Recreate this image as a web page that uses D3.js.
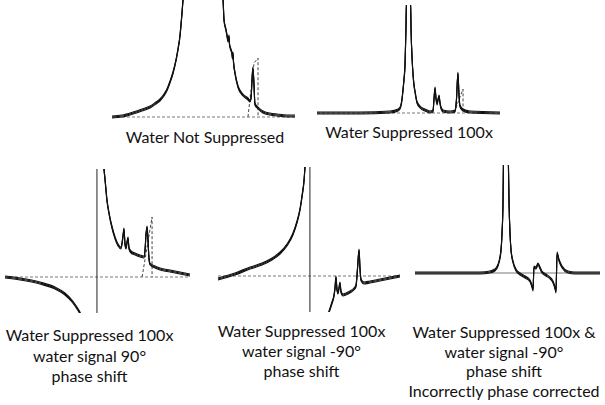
<!DOCTYPE html>
<html>
<head>
<meta charset="utf-8">
<script src="https://cdn.jsdelivr.net/npm/d3@7"></script>
<style>
  body { margin: 0; background: #fff; }
  svg { display: block; }
  .label { font-family: Lato, "Open Sans", sans-serif; font-size: 16px; fill: #111; text-anchor: middle; }
</style>
</head>
<body>
<div id="chart"></div>
<script>
// spectra: x = position across the panel (0-100), y = intensity above baseline
var waterNotSuppressed = [
  [0,0],[5.5,1],[11.5,4],[16.4,7],[20.8,10],[24,14],[26.2,17],[28.4,22],[30,27],[31.7,35],
  [33.3,44],[35,57],[36,67],[37.2,82],[37.7,92],[38.3,105],[38.8,117],[39.3,127],
  [60.1,127],[60.7,117],[61.2,97],[62.3,87],[62.8,82],[63.4,76],[63.9,81],[64.2,73],[64.5,70],
  [65.6,63],[65.8,59],[66.1,64],[66.4,55],[67.2,44],[68.9,30],[71.6,22],[74.3,18],[75.4,16],
  [76,19],[76.5,37],[77,49],[77.6,32],[78.1,13],[79.8,9],[82.5,5],[86.3,3],[90.2,2],[95.6,1],[100,1]
];
var waterNotSuppressedFit = [[74.3,0],[77.6,54],[79.8,59],[79.8,0]];

var waterSuppressed = [
  [0,0],[23.5,0],[39.9,1],[44.3,3],[45.4,5],[46.4,13],[47,23],[47.5,33],[48.1,48],[48.6,83],[48.9,113],
  [51.1,113],[51.4,83],[52,53],[52.5,38],[53,28],[53.6,21],[54.6,11],[56.3,6],[59,3],[61.7,1],
  [63.4,2],[63.9,13],[64.5,25],[65,15],[65.6,9],[66.1,13],[66.7,17],[67.2,10],[67.8,5],[68.9,2],
  [72.7,1],[75.4,2],[76.2,13],[77,40],[77.6,18],[78.1,7],[79.8,3],[83.6,1],[100,0]
];
var waterSuppressedFit = [[74.9,0],[79.8,24],[79.8,0]];

var shift90Left = [
  [0,0],[8.1,-2],[18.9,-6],[27,-11],[32.4,-17],[36.2,-24],[38.9,-31],[40.5,-36],[41.6,-41]
];
var shift90Right = [
  [53,117],[53.5,108],[54.1,97],[55.1,77],[56.2,64],[57.8,50],[59.5,39],[61.1,32],[62.7,29],
  [63.8,41],[64.3,48],[64.9,32],[65.4,29],[66,35],[66.5,39],[67,29],[68.1,25],[70.3,23],[73,21],
  [75.1,20],[75.7,27],[76.2,42],[76.8,50],[77.3,37],[77.8,19],[78.4,13],[81.1,10],[83.8,8],
  [89.2,6],[94.6,4],[100,2]
];
var shift90Fit = [[74.1,0],[79.5,60],[79.5,0]];

var shiftMinus90Left = [
  [0,-3],[9.3,2],[17.6,8],[24.2,12],[29.7,17],[34.1,23],[37.9,31],[41.2,42],[43.4,54],[45,66],
  [46.2,80],[47.3,96],[47.8,109],[48.4,121]
];
var shiftMinus90Right = [
  [60.4,-40],[61,-36],[62.6,-27],[63.7,-20],[64.3,-12],[64.8,-1],[65.4,-14],[65.9,-17],[66.5,-12],
  [67,-7],[67.6,-16],[68.7,-19],[70.3,-18],[72.5,-16],[74.7,-13],[75.8,-10],[76.4,1],[76.9,14],
  [77.5,26],[78,8],[78.6,-4],[80.2,-7],[83.5,-6],[89,-4],[94.5,-2],[100,0]
];

var incorrectPhase = [
  [0,0],[18.9,0],[35.1,0],[40.5,1],[43.2,3],[44.9,8],[45.9,15],[46.5,23],[47,38],[47.6,73],[47.8,108],[48.1,123],
  [50.3,123],[50.5,108],[50.8,73],[51.4,38],[51.9,23],[53,11],[54.6,3],[56.8,-1],[59.5,-4],[62.2,-8],
  [63.2,-13],[63.8,-17],[64.3,6],[65.4,5],[66.5,9],[67.6,5],[68.6,1],[70.8,-2],[73,-5],[74.6,-9],
  [75.7,-15],[76.2,-19],[76.8,20],[77.8,13],[79.5,6],[82.7,1],[86.5,0],[100,0]
];

var labels1 = ["Water Not Suppressed"];
var labels2 = ["Water Suppressed 100x"];
var labels3 = ["Water Suppressed 100x", "water signal 90\u00b0", "phase shift"];
var labels4 = ["Water Suppressed 100x", "water signal -90\u00b0", "phase shift"];
var labels5 = ["Water Suppressed 100x &", "water signal -90\u00b0", "phase shift", "Incorrectly phase corrected"];

// layout of the five panels (pixels)
var panels = [
  {x0: 112, x1: 295, base: 117, top: 0, bottom: 125, series: [waterNotSuppressed], fits: [waterNotSuppressedFit],
   baseline: "dash", axis: null, labels: labels1, tx: 205, ty: 143, lh: 20},
  {x0: 317, x1: 500, base: 113, top: 5, bottom: 125, series: [waterSuppressed], fits: [waterSuppressedFit],
   baseline: "dash", axis: null, labels: labels2, tx: 409, ty: 138, lh: 20},
  {x0: 5, x1: 190, base: 277, top: 169, bottom: 313, series: [shift90Left, shift90Right], fits: [shift90Fit],
   baseline: "dash", axis: 49.7, labels: labels3, tx: 89.5, ty: 341, lh: 20.5},
  {x0: 218, x1: 400, base: 276, top: 167, bottom: 312, series: [shiftMinus90Left, shiftMinus90Right], fits: [],
   baseline: "dash", axis: 50.5, labels: labels4, tx: 301.5, ty: 337, lh: 20},
  {x0: 415, x1: 600, base: 273, top: 165, bottom: 300, series: [incorrectPhase], fits: [],
   baseline: "solid", axis: null, labels: labels5, tx: 504, ty: 338, lh: 19.5}
];

var width = 605, height = 405;

var svg = d3.select("#chart").append("svg")
  .attr("width", width)
  .attr("height", height);

var defs = svg.append("defs");

panels.forEach(function(p, i) {
  var x = d3.scaleLinear().domain([0, 100]).range([p.x0, p.x1]);
  var y = d3.scaleLinear().domain([0, 100]).range([p.base, p.base - 100]);

  defs.append("clipPath").attr("id", "clip" + i)
    .append("rect")
    .attr("x", p.x0 - 3).attr("y", p.top)
    .attr("width", p.x1 - p.x0 + 6).attr("height", p.bottom - p.top);

  var g = svg.append("g");
  var plot = g.append("g").attr("clip-path", "url(#clip" + i + ")");

  // baseline
  plot.append("line")
    .attr("x1", x(0)).attr("x2", x(100))
    .attr("y1", y(0)).attr("y2", y(0))
    .attr("stroke", "#555")
    .attr("stroke-width", 0.8)
    .attr("stroke-dasharray", p.baseline == "dash" ? "3,2" : null);

  // vertical reference line
  if (p.axis != null) {
    g.append("line")
      .attr("x1", x(p.axis)).attr("x2", x(p.axis))
      .attr("y1", p.top).attr("y2", p.bottom)
      .attr("stroke", "#222")
      .attr("stroke-width", 1);
  }

  var line = d3.line()
    .x(d => x(d[0]))
    .y(d => y(d[1]))
    .curve(d3.curveMonotoneX);

  var fitLine = d3.line()
    .x(d => x(d[0]))
    .y(d => y(d[1]));

  p.fits.forEach(function(f) {
    plot.append("path")
      .attr("d", fitLine(f))
      .attr("fill", "none")
      .attr("stroke", "#333")
      .attr("stroke-width", 0.9)
      .attr("stroke-dasharray", "3,2");
  });

  // noisy trace: stacked copies make the flat parts thick, the steep parts thin
  p.series.forEach(function(s) {
    [-1, 0, 1].forEach(function(dy) {
      plot.append("path")
        .attr("d", line(s))
        .attr("transform", `translate(0,${dy})`)
        .attr("fill", "none")
        .attr("stroke", "#111")
        .attr("stroke-width", 1.1);
    });
  });

  g.selectAll("text.label")
    .data(p.labels)
    .enter()
    .append("text")
    .attr("class", "label")
    .attr("x", p.tx)
    .attr("y", (d, j) => p.ty + j * p.lh)
    .text(d => d);
});
</script>
</body>
</html>
